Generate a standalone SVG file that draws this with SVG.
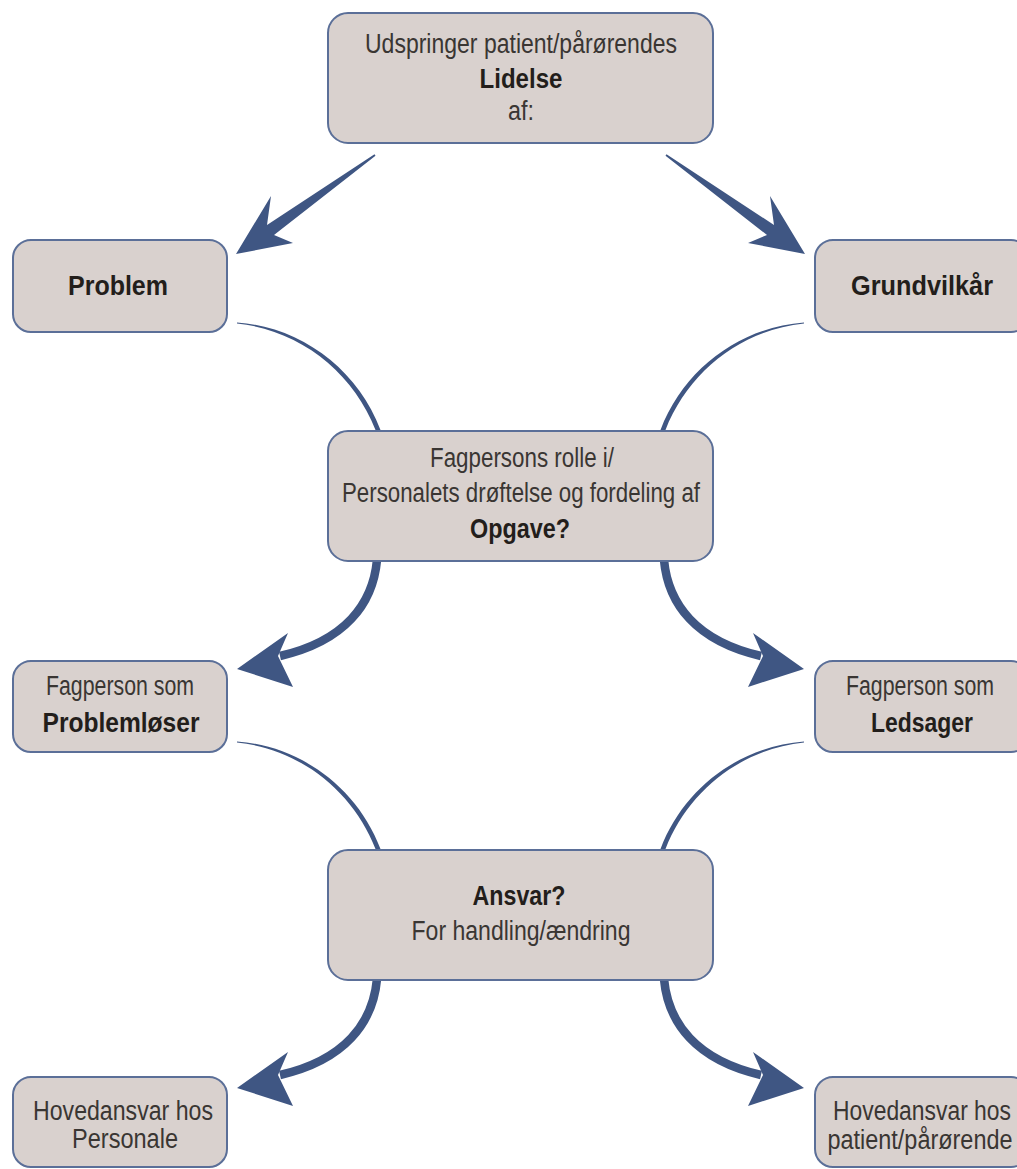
<svg xmlns="http://www.w3.org/2000/svg" xmlns:xlink="http://www.w3.org/1999/xlink" width="1017" height="1169" viewBox="0 0 1017 1169">
<style>
.box{fill:#d9d1ce;stroke:#5b6f98;stroke-width:2}
.t{font-family:"Liberation Sans",Arial,sans-serif;font-size:27px;fill:#3a3633;text-anchor:middle}
.b{font-weight:bold;fill:#231e1b}
.arr{fill:#3f5683}
</style>
<defs>
<path id="straight" d="M236,254 L271,196 L267,225 L374.5,154.3 L375.5,155.7 L274,235 L293,243 Z"/>
<g id="curved">
<path d="M377,560 C373,604 345,641 280,656" fill="none" stroke="#3f5683" stroke-width="8.5"/>
<path d="M237,669 L288,633 L278,656 L293,687 Z"/>
</g>
<path id="thin" d="M237,322.5 C300,327 357,368 380.5,430 L375.5,430 C353,372 300,330 237,323.5 Z"/>
</defs>
<rect width="1017" height="1169" fill="#ffffff"/>
<g id="connectors" class="arr">
<use xlink:href="#straight"/>
<use xlink:href="#straight" transform="matrix(-1 0 0 1 1041 0)"/>
<use xlink:href="#thin"/>
<use xlink:href="#thin" transform="matrix(-1 0 0 1 1041 0)"/>
<use xlink:href="#curved"/>
<use xlink:href="#curved" transform="matrix(-1 0 0 1 1041 0)"/>
<use xlink:href="#thin" transform="translate(0,419)"/>
<use xlink:href="#thin" transform="matrix(-1 0 0 1 1041 419)"/>
<use xlink:href="#curved" transform="translate(0,419)"/>
<use xlink:href="#curved" transform="matrix(-1 0 0 1 1041 419)"/>
</g>
<g id="n-lidelse">
<rect class="box" x="328" y="13" width="385" height="130" rx="20"/>
<text class="t" x="521" y="53" textLength="312" lengthAdjust="spacingAndGlyphs">Udspringer patient/pårørendes</text>
<text class="t b" x="521" y="88" textLength="83" lengthAdjust="spacingAndGlyphs">Lidelse</text>
<text class="t" x="521" y="120" textLength="26" lengthAdjust="spacingAndGlyphs">af:</text>
</g>
<g id="n-problem">
<rect class="box" x="13" y="240" width="214" height="92" rx="18"/>
<text class="t b" x="118" y="295" textLength="100" lengthAdjust="spacingAndGlyphs">Problem</text>
</g>
<g id="n-grundvilkar">
<rect class="box" x="815" y="240" width="214" height="92" rx="18"/>
<text class="t b" x="922" y="295" textLength="142" lengthAdjust="spacingAndGlyphs">Grundvilkår</text>
</g>
<g id="n-opgave">
<rect class="box" x="328" y="431" width="385" height="130" rx="20"/>
<text class="t" x="522" y="467" textLength="184" lengthAdjust="spacingAndGlyphs">Fagpersons rolle i/</text>
<text class="t" x="521" y="502" textLength="358" lengthAdjust="spacingAndGlyphs">Personalets drøftelse og fordeling af</text>
<text class="t b" x="520" y="538" textLength="100" lengthAdjust="spacingAndGlyphs">Opgave?</text>
</g>
<g id="n-problemloser">
<rect class="box" x="13" y="661" width="214" height="91" rx="18"/>
<text class="t" x="120" y="695" textLength="148" lengthAdjust="spacingAndGlyphs">Fagperson som</text>
<text class="t b" x="121" y="732" textLength="157" lengthAdjust="spacingAndGlyphs">Problemløser</text>
</g>
<g id="n-ledsager">
<rect class="box" x="815" y="661" width="214" height="91" rx="18"/>
<text class="t" x="920" y="695" textLength="148" lengthAdjust="spacingAndGlyphs">Fagperson som</text>
<text class="t b" x="922" y="732" textLength="102" lengthAdjust="spacingAndGlyphs">Ledsager</text>
</g>
<g id="n-ansvar">
<rect class="box" x="328" y="850" width="385" height="130" rx="20"/>
<text class="t b" x="519" y="905" textLength="93" lengthAdjust="spacingAndGlyphs">Ansvar?</text>
<text class="t" x="521" y="940" textLength="219" lengthAdjust="spacingAndGlyphs">For handling/ændring</text>
</g>
<g id="n-personale">
<rect class="box" x="13" y="1077" width="214" height="90" rx="18"/>
<text class="t" x="123" y="1120" textLength="180" lengthAdjust="spacingAndGlyphs">Hovedansvar hos</text>
<text class="t" x="125" y="1148" textLength="106" lengthAdjust="spacingAndGlyphs">Personale</text>
</g>
<g id="n-patient">
<rect class="box" x="815" y="1077" width="214" height="90" rx="18"/>
<text class="t" x="922" y="1120" textLength="178" lengthAdjust="spacingAndGlyphs">Hovedansvar hos</text>
<text class="t" x="920" y="1149" textLength="185" lengthAdjust="spacingAndGlyphs">patient/pårørende</text>
</g>
</svg>
